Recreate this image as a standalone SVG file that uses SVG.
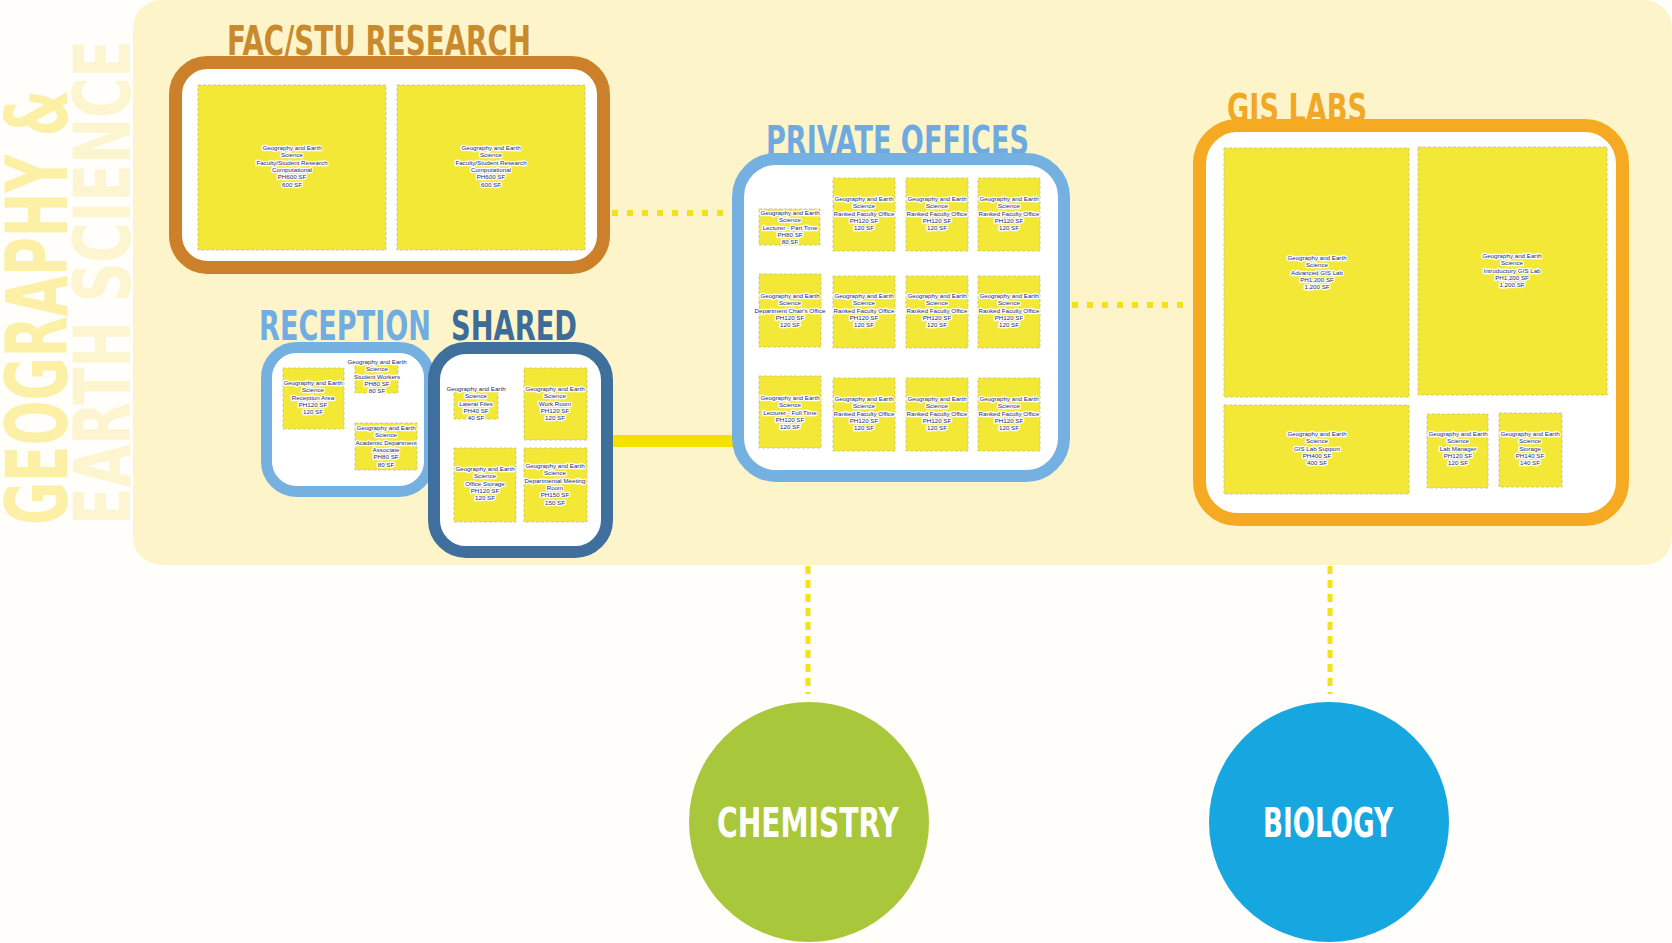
<svg xmlns="http://www.w3.org/2000/svg" width="1672" height="943" viewBox="0 0 1672 943">
<style>
.room{fill:#f4e836;stroke:#c4bc8e;stroke-width:0.8;stroke-dasharray:3 2}
.lbl{font-family:"Liberation Sans",Arial,sans-serif;font-size:6.2px;fill:#262a6a;stroke:#ffffff;stroke-width:2.6px;stroke-linejoin:round;paint-order:stroke;text-anchor:middle}
.title{font-family:"DejaVu Sans Condensed","Liberation Sans",sans-serif;font-weight:bold}
.box{fill:#ffffff}
.dot{fill:none;stroke:#f3e11a;stroke-width:6;stroke-dasharray:6 9}
.vdot{fill:none;stroke:#f3e11a;stroke-width:5;stroke-dasharray:8 6}
.circ{font-family:"DejaVu Sans Condensed","Liberation Sans",sans-serif;font-weight:bold;font-size:41px;fill:#ffffff}
</style>
<rect x="0" y="0" width="1672" height="943" fill="#fffefa"/>
<rect id="background" x="133" y="0" width="1539" height="565" rx="28" fill="#fdf5c9"/>
<g id="vertical-title">
<text class="title" transform="translate(67,525) rotate(-90)" font-size="85" fill="#fbf0a6" textLength="435" lengthAdjust="spacingAndGlyphs">GEOGRAPHY &amp;</text>
<text class="title" transform="translate(130,525) rotate(-90)" font-size="78" fill="#fcf5cf" textLength="485" lengthAdjust="spacingAndGlyphs">EARTH SCIENCE</text>
</g>
<g id="connectors">
<path class="dot" d="M612,213 H730"/>
<path class="dot" d="M1072,305 H1192"/>
<path d="M612,441 H734" fill="none" stroke="#f6e000" stroke-width="12"/>
<path class="vdot" d="M808,566 V694"/>
<path class="vdot" d="M1330,566 V694"/>
</g>
<g id="fac-stu-research">
<text class="title" x="227" y="55" font-size="41" fill="#c98a2e" textLength="304" lengthAdjust="spacingAndGlyphs">FAC/STU RESEARCH</text>
<rect class="box" x="175.5" y="62.5" width="428" height="205" rx="32" stroke="#cc8029" stroke-width="13"/>
<g id="fac-room-1"><rect class="room" x="198" y="85" width="188" height="165"/>
<text class="lbl" x="292" y="150"><tspan x="292">Geography and Earth</tspan><tspan x="292" dy="7.3">Science</tspan><tspan x="292" dy="7.3">Faculty/Student Research</tspan><tspan x="292" dy="7.3">Computational</tspan><tspan x="292" dy="7.3">PH600 SF</tspan><tspan x="292" dy="7.3">600 SF</tspan></text></g>
<g id="fac-room-2"><rect class="room" x="397" y="85" width="188" height="165"/>
<text class="lbl" x="491" y="150"><tspan x="491">Geography and Earth</tspan><tspan x="491" dy="7.3">Science</tspan><tspan x="491" dy="7.3">Faculty/Student Research</tspan><tspan x="491" dy="7.3">Computational</tspan><tspan x="491" dy="7.3">PH600 SF</tspan><tspan x="491" dy="7.3">600 SF</tspan></text></g>
</g>
<g id="reception">
<text class="title" x="259" y="340" font-size="40" fill="#71ade0" textLength="172" lengthAdjust="spacingAndGlyphs">RECEPTION</text>
<rect class="box" x="266.5" y="347.5" width="163" height="144" rx="30" stroke="#74b1e1" stroke-width="11"/>
<g id="rec-room-1"><rect class="room" x="283" y="368" width="61" height="61"/>
<text class="lbl" x="313" y="385"><tspan x="313">Geography and Earth</tspan><tspan x="313" dy="7.3">Science</tspan><tspan x="313" dy="7.3">Reception Area</tspan><tspan x="313" dy="7.3">PH120 SF</tspan><tspan x="313" dy="7.3">120 SF</tspan></text></g>
<g id="rec-room-2"><rect class="room" x="355" y="363" width="43" height="30"/>
<text class="lbl" x="377" y="364"><tspan x="377">Geography and Earth</tspan><tspan x="377" dy="7.3">Science</tspan><tspan x="377" dy="7.3">Student Workers</tspan><tspan x="377" dy="7.3">PH80 SF</tspan><tspan x="377" dy="7.3">80 SF</tspan></text></g>
<g id="rec-room-3"><rect class="room" x="355" y="423" width="62" height="47"/>
<text class="lbl" x="386" y="430"><tspan x="386">Geography and Earth</tspan><tspan x="386" dy="7.3">Science</tspan><tspan x="386" dy="7.3">Academic Department</tspan><tspan x="386" dy="7.3">Associate</tspan><tspan x="386" dy="7.3">PH80 SF</tspan><tspan x="386" dy="7.3">80 SF</tspan></text></g>
</g>
<g id="shared">
<text class="title" x="451" y="340" font-size="40" fill="#3d6c98" textLength="126" lengthAdjust="spacingAndGlyphs">SHARED</text>
<rect class="box" x="434" y="348" width="173" height="204" rx="32" stroke="#3e6f9d" stroke-width="12"/>
<g id="sh-room-1"><rect class="room" x="454" y="390" width="44" height="29"/>
<text class="lbl" x="476" y="391"><tspan x="476">Geography and Earth</tspan><tspan x="476" dy="7.3">Science</tspan><tspan x="476" dy="7.3">Lateral Files</tspan><tspan x="476" dy="7.3">PH40 SF</tspan><tspan x="476" dy="7.3">40 SF</tspan></text></g>
<g id="sh-room-2"><rect class="room" x="524" y="368" width="63" height="72"/>
<text class="lbl" x="555" y="391"><tspan x="555">Geography and Earth</tspan><tspan x="555" dy="7.3">Science</tspan><tspan x="555" dy="7.3">Work Room</tspan><tspan x="555" dy="7.3">PH120 SF</tspan><tspan x="555" dy="7.3">120 SF</tspan></text></g>
<g id="sh-room-3"><rect class="room" x="454" y="448" width="62" height="74"/>
<text class="lbl" x="485" y="471"><tspan x="485">Geography and Earth</tspan><tspan x="485" dy="7.3">Science</tspan><tspan x="485" dy="7.3">Office Storage</tspan><tspan x="485" dy="7.3">PH120 SF</tspan><tspan x="485" dy="7.3">120 SF</tspan></text></g>
<g id="sh-room-4"><rect class="room" x="524" y="448" width="63" height="74"/>
<text class="lbl" x="555" y="468"><tspan x="555">Geography and Earth</tspan><tspan x="555" dy="7.3">Science</tspan><tspan x="555" dy="7.3">Departmental Meeting</tspan><tspan x="555" dy="7.3">Room</tspan><tspan x="555" dy="7.3">PH150 SF</tspan><tspan x="555" dy="7.3">150 SF</tspan></text></g>
</g>
<g id="private-offices">
<text class="title" x="766" y="154" font-size="39" fill="#6eaadf" textLength="263" lengthAdjust="spacingAndGlyphs">PRIVATE OFFICES</text>
<rect class="box" x="738" y="159" width="326" height="317" rx="38" stroke="#74b1e1" stroke-width="12"/>
<g id="po-1"><rect class="room" x="759" y="209" width="61" height="36"/>
<text class="lbl" x="790" y="215"><tspan x="790">Geography and Earth</tspan><tspan x="790" dy="7.3">Science</tspan><tspan x="790" dy="7.3">Lecturer - Part Time</tspan><tspan x="790" dy="7.3">PH80 SF</tspan><tspan x="790" dy="7.3">80 SF</tspan></text></g>
<g id="po-2"><rect class="room" x="833" y="178" width="62" height="73"/>
<text class="lbl" x="864" y="201"><tspan x="864">Geography and Earth</tspan><tspan x="864" dy="7.3">Science</tspan><tspan x="864" dy="7.3">Ranked Faculty Office</tspan><tspan x="864" dy="7.3">PH120 SF</tspan><tspan x="864" dy="7.3">120 SF</tspan></text></g>
<g id="po-3"><rect class="room" x="906" y="178" width="62" height="73"/>
<text class="lbl" x="937" y="201"><tspan x="937">Geography and Earth</tspan><tspan x="937" dy="7.3">Science</tspan><tspan x="937" dy="7.3">Ranked Faculty Office</tspan><tspan x="937" dy="7.3">PH120 SF</tspan><tspan x="937" dy="7.3">120 SF</tspan></text></g>
<g id="po-4"><rect class="room" x="978" y="178" width="62" height="73"/>
<text class="lbl" x="1009" y="201"><tspan x="1009">Geography and Earth</tspan><tspan x="1009" dy="7.3">Science</tspan><tspan x="1009" dy="7.3">Ranked Faculty Office</tspan><tspan x="1009" dy="7.3">PH120 SF</tspan><tspan x="1009" dy="7.3">120 SF</tspan></text></g>
<g id="po-5"><rect class="room" x="759" y="274" width="62" height="73"/>
<text class="lbl" x="790" y="298"><tspan x="790">Geography and Earth</tspan><tspan x="790" dy="7.3">Science</tspan><tspan x="790" dy="7.3">Department Chair's Office</tspan><tspan x="790" dy="7.3">PH120 SF</tspan><tspan x="790" dy="7.3">120 SF</tspan></text></g>
<g id="po-6"><rect class="room" x="833" y="276" width="62" height="72"/>
<text class="lbl" x="864" y="298"><tspan x="864">Geography and Earth</tspan><tspan x="864" dy="7.3">Science</tspan><tspan x="864" dy="7.3">Ranked Faculty Office</tspan><tspan x="864" dy="7.3">PH120 SF</tspan><tspan x="864" dy="7.3">120 SF</tspan></text></g>
<g id="po-7"><rect class="room" x="906" y="276" width="62" height="72"/>
<text class="lbl" x="937" y="298"><tspan x="937">Geography and Earth</tspan><tspan x="937" dy="7.3">Science</tspan><tspan x="937" dy="7.3">Ranked Faculty Office</tspan><tspan x="937" dy="7.3">PH120 SF</tspan><tspan x="937" dy="7.3">120 SF</tspan></text></g>
<g id="po-8"><rect class="room" x="978" y="276" width="62" height="72"/>
<text class="lbl" x="1009" y="298"><tspan x="1009">Geography and Earth</tspan><tspan x="1009" dy="7.3">Science</tspan><tspan x="1009" dy="7.3">Ranked Faculty Office</tspan><tspan x="1009" dy="7.3">PH120 SF</tspan><tspan x="1009" dy="7.3">120 SF</tspan></text></g>
<g id="po-9"><rect class="room" x="759" y="376" width="62" height="72"/>
<text class="lbl" x="790" y="400"><tspan x="790">Geography and Earth</tspan><tspan x="790" dy="7.3">Science</tspan><tspan x="790" dy="7.3">Lecturer - Full Time</tspan><tspan x="790" dy="7.3">PH120 SF</tspan><tspan x="790" dy="7.3">120 SF</tspan></text></g>
<g id="po-10"><rect class="room" x="833" y="378" width="62" height="73"/>
<text class="lbl" x="864" y="401"><tspan x="864">Geography and Earth</tspan><tspan x="864" dy="7.3">Science</tspan><tspan x="864" dy="7.3">Ranked Faculty Office</tspan><tspan x="864" dy="7.3">PH120 SF</tspan><tspan x="864" dy="7.3">120 SF</tspan></text></g>
<g id="po-11"><rect class="room" x="906" y="378" width="62" height="73"/>
<text class="lbl" x="937" y="401"><tspan x="937">Geography and Earth</tspan><tspan x="937" dy="7.3">Science</tspan><tspan x="937" dy="7.3">Ranked Faculty Office</tspan><tspan x="937" dy="7.3">PH120 SF</tspan><tspan x="937" dy="7.3">120 SF</tspan></text></g>
<g id="po-12"><rect class="room" x="978" y="378" width="62" height="73"/>
<text class="lbl" x="1009" y="401"><tspan x="1009">Geography and Earth</tspan><tspan x="1009" dy="7.3">Science</tspan><tspan x="1009" dy="7.3">Ranked Faculty Office</tspan><tspan x="1009" dy="7.3">PH120 SF</tspan><tspan x="1009" dy="7.3">120 SF</tspan></text></g>
</g>
<g id="gis-labs">
<text class="title" x="1227" y="122" font-size="39" fill="#f2a827" textLength="140" lengthAdjust="spacingAndGlyphs">GIS LABS</text>
<rect class="box" x="1199.5" y="125.5" width="423" height="394" rx="38" stroke="#f6aa22" stroke-width="13"/>
<g id="gis-1"><rect class="room" x="1224" y="148" width="185" height="249"/>
<text class="lbl" x="1317" y="260"><tspan x="1317">Geography and Earth</tspan><tspan x="1317" dy="7.3">Science</tspan><tspan x="1317" dy="7.3">Advanced GIS Lab</tspan><tspan x="1317" dy="7.3">PH1,200 SF</tspan><tspan x="1317" dy="7.3">1,200 SF</tspan></text></g>
<g id="gis-2"><rect class="room" x="1418" y="147" width="189" height="248"/>
<text class="lbl" x="1512" y="258"><tspan x="1512">Geography and Earth</tspan><tspan x="1512" dy="7.3">Science</tspan><tspan x="1512" dy="7.3">Introductory GIS Lab</tspan><tspan x="1512" dy="7.3">PH1,200 SF</tspan><tspan x="1512" dy="7.3">1,200 SF</tspan></text></g>
<g id="gis-3"><rect class="room" x="1224" y="405" width="185" height="89"/>
<text class="lbl" x="1317" y="436"><tspan x="1317">Geography and Earth</tspan><tspan x="1317" dy="7.3">Science</tspan><tspan x="1317" dy="7.3">GIS Lab Support</tspan><tspan x="1317" dy="7.3">PH400 SF</tspan><tspan x="1317" dy="7.3">400 SF</tspan></text></g>
<g id="gis-4"><rect class="room" x="1427" y="414" width="61" height="74"/>
<text class="lbl" x="1458" y="436"><tspan x="1458">Geography and Earth</tspan><tspan x="1458" dy="7.3">Science</tspan><tspan x="1458" dy="7.3">Lab Manager</tspan><tspan x="1458" dy="7.3">PH120 SF</tspan><tspan x="1458" dy="7.3">120 SF</tspan></text></g>
<g id="gis-5"><rect class="room" x="1499" y="413" width="63" height="74"/>
<text class="lbl" x="1530" y="436"><tspan x="1530">Geography and Earth</tspan><tspan x="1530" dy="7.3">Science</tspan><tspan x="1530" dy="7.3">Storage</tspan><tspan x="1530" dy="7.3">PH140 SF</tspan><tspan x="1530" dy="7.3">140 SF</tspan></text></g>
</g>
<g id="chemistry">
<circle cx="809" cy="822" r="120" fill="#a9c73a"/>
<text class="circ" x="717" y="837" textLength="182" lengthAdjust="spacingAndGlyphs">CHEMISTRY</text>
</g>
<g id="biology">
<circle cx="1329" cy="822" r="120" fill="#17a7e0"/>
<text class="circ" x="1263" y="837" textLength="130" lengthAdjust="spacingAndGlyphs">BIOLOGY</text>
</g>
</svg>
